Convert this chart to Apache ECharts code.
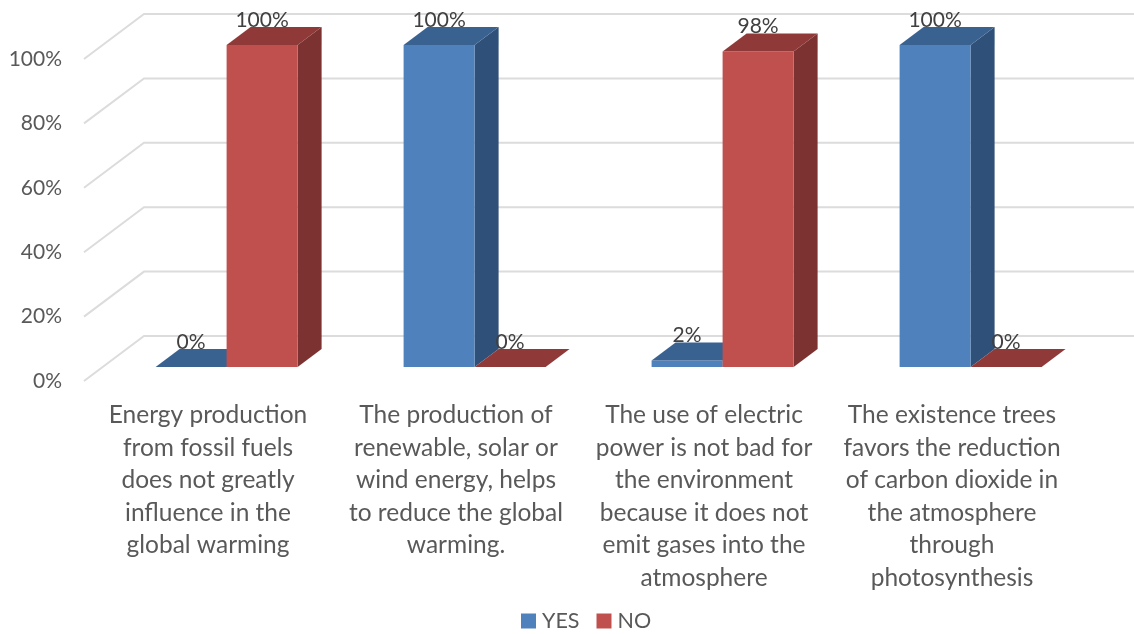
<!DOCTYPE html>
<html>
<head>
<meta charset="utf-8">
<style>html,body{margin:0;padding:0;background:#fff}#c{width:1134px;height:634px}</style>
<script src="https://cdn.jsdelivr.net/npm/echarts@6/dist/echarts.min.js"></script>
</head>
<body>
<div id="c"></div>
<script>
const categories = [
  "Energy production\nfrom fossil fuels\ndoes not greatly\ninfluence in the\nglobal warming",
  "The production of\nrenewable, solar or\nwind energy, helps\nto reduce the global\nwarming.",
  "The use of electric\npower is not bad for\nthe environment\nbecause it does not\nemit gases into the\natmosphere",
  "The existence trees\nfavors the reduction\nof carbon dioxide in\nthe atmosphere\nthrough\nphotosynthesis"
];
const yesValues = [0, 100, 2, 100];
const noValues = [100, 0, 98, 0];
const ticks = [0, 20, 40, 60, 80, 100];

const FONT = 'Lato';
const WALL_DX = 60, WALL_DY = -45;      // wall depth
const BAR_OFF_X = 18.6, BAR_OFF_Y = -14; // bar position inside depth
const BAR_DX = 24, BAR_DY = -18;        // bar depth
const BAR_RATIO = 71 / 248;

function barRenderer(side, front, topC, sideC) {
  return function (params, api) {
    const cat = api.value(0), v = api.value(1);
    const top = api.coord([cat, v]), base = api.coord([cat, 0]);
    const w = api.size([1, 0])[0] * BAR_RATIO;
    const cx = top[0] + BAR_OFF_X;
    const x0 = side < 0 ? cx - w : cx, x1 = x0 + w;
    const yT = top[1] + BAR_OFF_Y, yB = base[1] + BAR_OFF_Y;
    const children = [];
    if (yB - yT > 0.01) {
      children.push({ type: 'polygon', shape: { points: [[x1, yB], [x1 + BAR_DX, yB + BAR_DY], [x1 + BAR_DX, yT + BAR_DY], [x1, yT]] }, style: { fill: sideC } });
      children.push({ type: 'rect', shape: { x: x0, y: yT, width: w, height: yB - yT }, style: { fill: front } });
    }
    children.push({ type: 'polygon', shape: { points: [[x0, yT], [x1, yT], [x1 + BAR_DX, yT + BAR_DY], [x0 + BAR_DX, yT + BAR_DY]] }, style: { fill: topC } });
    children.push({ type: 'text', style: { text: v + '%', x: (x0 + x1) / 2, y: yT - 25, align: 'center', verticalAlign: 'middle', font: '21px ' + FONT, fill: '#404040' } });
    return { type: 'group', children };
  };
}

function wallRenderer(params, api) {
  const t = api.value(1);
  const p = api.coord([0, t]);
  const cs = params.coordSys;
  const y = p[1];
  const style = { stroke: '#DCDCDC', lineWidth: 2, fill: 'none' };
  return {
    type: 'polyline',
    shape: { points: [[cs.x, y], [cs.x + WALL_DX, y + WALL_DY], [cs.x + cs.width + WALL_DX, y + WALL_DY]] },
    style
  };
}

const chart = echarts.init(document.getElementById('c'), null, { renderer: 'canvas' });
chart.setOption({
  animation: false,
  backgroundColor: '#ffffff',
  textStyle: { fontFamily: FONT },
  grid: { left: 84, top: 59, width: 992, height: 322, containLabel: false },
  legend: {
    data: ['YES', 'NO'],
    left: 516, top: 605,
    icon: 'rect', itemWidth: 15, itemHeight: 15, itemGap: 17,
    textStyle: { fontFamily: FONT, fontSize: 21.5, color: '#595959', padding: [0, 0, 0, 1] }
  },
  xAxis: {
    type: 'category', data: categories,
    axisLine: { show: false }, axisTick: { show: false }, splitLine: { show: false },
    axisLabel: { interval: 0, margin: 18, fontFamily: FONT, fontSize: 24.5, lineHeight: 32.5, color: '#595959', align: 'center', verticalAlign: 'top' }
  },
  yAxis: {
    type: 'value', min: 0, max: 100, interval: 20,
    axisLine: { show: false }, axisTick: { show: false }, splitLine: { show: false },
    axisLabel: { margin: 22, fontFamily: FONT, fontSize: 21, color: '#595959', formatter: '{value}%' }
  },
  series: [
    { name: 'walls', type: 'custom', renderItem: wallRenderer, data: ticks.map(t => [0, t]), silent: true, z: 1 },
    { name: 'YES', type: 'custom', itemStyle: { color: '#4F81BD' }, z: 2,
      renderItem: barRenderer(-1, '#4F81BD', '#3A6291', '#2F5078'),
      data: yesValues.map((v, i) => [i, v]) },
    { name: 'NO', type: 'custom', itemStyle: { color: '#C0504D' }, z: 3,
      renderItem: barRenderer(1, '#C0504D', '#8F3A38', '#7B3231'),
      data: noValues.map((v, i) => [i, v]) }
  ]
});
</script>
</body>
</html>
